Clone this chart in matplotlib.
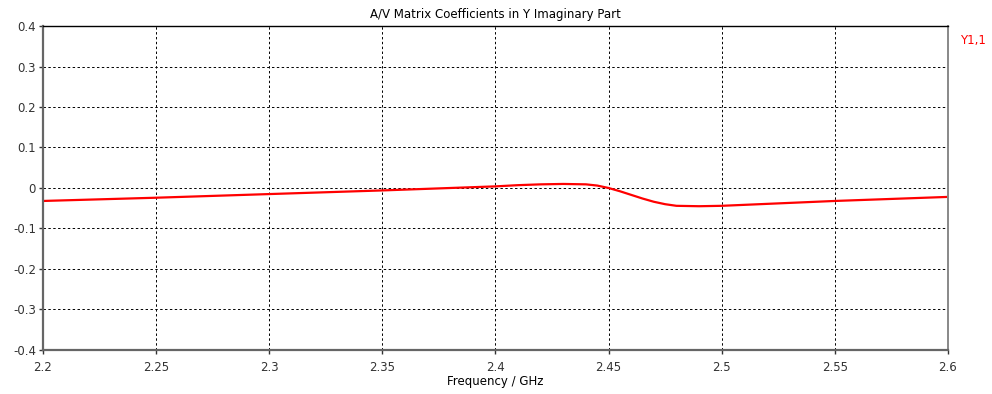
import matplotlib
matplotlib.use("Agg")
import matplotlib.pyplot as plt

# Frequency points (GHz) and imaginary part of Y1,1
freq = [2.20, 2.25, 2.30, 2.35, 2.40, 2.41, 2.42, 2.43, 2.44, 2.445, 2.45,
        2.455, 2.46, 2.465, 2.47, 2.475, 2.48, 2.49, 2.50, 2.55, 2.60]
y11_imag = [-0.032, -0.024, -0.015, -0.006, 0.004, 0.007, 0.009, 0.010, 0.009,
            0.006, 0.000, -0.008, -0.017, -0.026, -0.034, -0.040, -0.044,
            -0.045, -0.044, -0.032, -0.022]

xticks = [2.2, 2.25, 2.3, 2.35, 2.4, 2.45, 2.5, 2.55, 2.6]
xtick_labels = ["2.2", "2.25", "2.3", "2.35", "2.4", "2.45", "2.5", "2.55", "2.6"]
yticks = [-0.4, -0.3, -0.2, -0.1, 0, 0.1, 0.2, 0.3, 0.4]
ytick_labels = ["-0.4", "-0.3", "-0.2", "-0.1", "0", "0.1", "0.2", "0.3", "0.4"]

plt.rcParams['font.family'] = ['DejaVu Sans']

fig = plt.figure(figsize=(9.92, 3.94), dpi=100)
ax = fig.add_axes([0.0433, 0.1117, 0.9123, 0.8223])

ax.plot(freq, y11_imag, color='#ff0000', linewidth=1.6)

ax.set_xlim(2.2, 2.6)
ax.set_ylim(-0.4, 0.4)
ax.set_xticks(xticks)
ax.set_xticklabels(xtick_labels)
ax.set_yticks(yticks)
ax.set_yticklabels(ytick_labels)
ax.tick_params(labelsize=8.5, colors='#333333', length=3, width=1, pad=2)
ax.tick_params(axis='x', pad=5)

ax.grid(True, color='black', linestyle=(0, (2.5, 2.5)), linewidth=0.7)

for side in ['left', 'bottom']:
    ax.spines[side].set_color('#666666')
    ax.spines[side].set_linewidth(1.6)
ax.spines['right'].set_color('#888888')
ax.spines['right'].set_linewidth(1.4)
ax.spines['top'].set_color('black')
ax.spines['top'].set_linewidth(1.0)

ax.set_title('A/V Matrix Coefficients in Y Imaginary Part', fontsize=8.5, pad=6)
ax.set_xlabel('Frequency / GHz', fontsize=8.5, labelpad=1)

fig.text(0.968, 0.897, 'Y1,1', color='#ff0000', fontsize=8.5, ha='left', va='center')

fig.savefig('out.png', dpi=100)
